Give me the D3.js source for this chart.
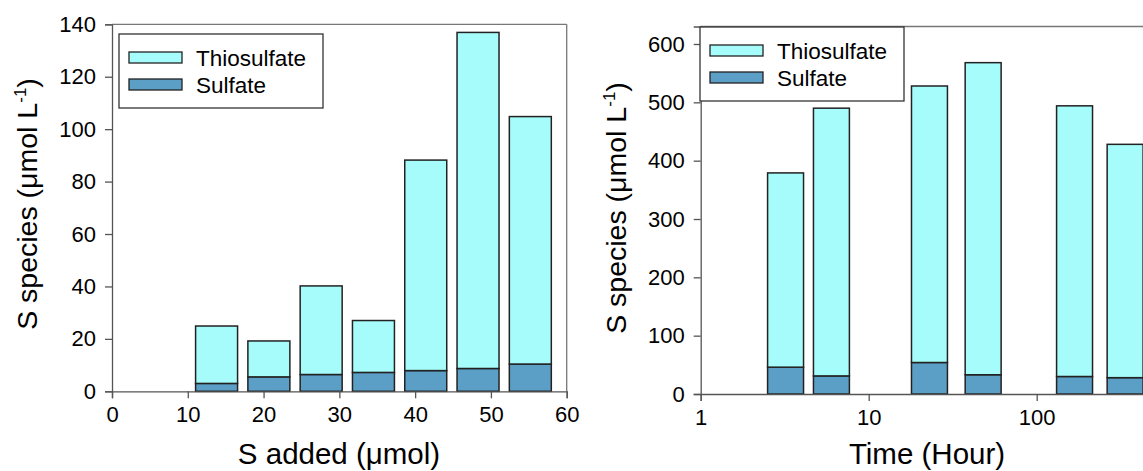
<!DOCTYPE html>
<html>
<head>
<meta charset="utf-8">
<script src="https://cdn.jsdelivr.net/npm/d3@7"></script>
<style>
  html, body { margin: 0; padding: 0; background: #fff; }
  svg { display: block; font-family: "Liberation Sans", Arial, sans-serif; }
</style>
</head>
<body>
<svg id="fig" width="1143" height="471"></svg>
<script>
// ---- Panel A: S species vs. amount of S added ----
const addedLevels   = [13.8, 20.7, 27.6, 34.5, 41.4, 48.3, 55.2];     // µmol
const sulfateAdded  = [3.0, 5.5, 6.4, 7.2, 7.9, 8.7, 10.4];           // µmol L-1
const thioAdded     = [21.9, 13.7, 33.8, 19.8, 80.3, 128.2, 94.4];    // µmol L-1 (stacked on sulfate)
const addedTicks    = [0, 10, 20, 30, 40, 50, 60];
const speciesTicksA = [0, 20, 40, 60, 80, 100, 120, 140];

// ---- Panel B: S species vs. time ----
const timeHours     = [3.2, 6, 23, 48, 168, 336];
const sulfateTime   = [46, 31, 54, 33, 30, 28];
const thioTime      = [333, 459, 474, 535, 464, 400];
const timeTicks     = [1, 10, 100];
const speciesTicksB = [0, 100, 200, 300, 400, 500, 600];

const seriesNames = ["Thiosulfate", "Sulfate"];
const colors = { Thiosulfate: "#a6fcfa", Sulfate: "#5b9fc7" };
const barStroke = "#222";
const axisColor = "#555";

const svg = d3.select("#fig");

function stackRows(xs, sulf, thio) {
  return xs.map((x, i) => ({ x, Sulfate: sulf[i], Thiosulfate: thio[i] }));
}
const stacker = d3.stack().keys(["Sulfate", "Thiosulfate"]);

function drawPanel(cfg) {
  const g = svg.append("g");
  const { x, y } = cfg;
  const [x0, x1] = x.range();
  const [yb, yt] = y.range();

  // frame (top and right sides)
  g.append("line").attr("x1", x0).attr("x2", x1).attr("y1", yt).attr("y2", yt)
    .attr("stroke", "#777").attr("stroke-width", 1.3);
  g.append("line").attr("x1", x1).attr("x2", x1).attr("y1", yt).attr("y2", yb)
    .attr("stroke", "#777").attr("stroke-width", 1.3);

  // stacked bars
  const layers = stacker(cfg.rows);
  layers.forEach(layer => {
    g.append("g").selectAll("rect").data(layer).join("rect")
      .attr("x", d => cfg.barLeft(d.data.x))
      .attr("width", d => cfg.barRight(d.data.x) - cfg.barLeft(d.data.x))
      .attr("y", d => y(d[1]))
      .attr("height", d => y(d[0]) - y(d[1]))
      .attr("fill", colors[layer.key])
      .attr("stroke", barStroke)
      .attr("stroke-width", 1.5);
  });

  // axes
  const xAxis = g.append("g").attr("transform", `translate(0,${yb})`)
    .call(d3.axisBottom(x).tickValues(cfg.xTicks).tickFormat(cfg.xFormat).tickSizeOuter(0).tickSize(7).tickPadding(8));
  const yAxis = g.append("g").attr("transform", `translate(${x0},0)`)
    .call(d3.axisLeft(y).tickValues(cfg.yTicks).tickSizeOuter(0).tickSize(7).tickPadding(9));
  [xAxis, yAxis].forEach(a => {
    a.select(".domain").attr("stroke", axisColor).attr("stroke-width", 1.3);
    a.selectAll(".tick line").attr("stroke", axisColor).attr("stroke-width", 1.3);
    a.selectAll(".tick text").attr("fill", "#000").style("font-size", "22px")
      .style("font-family", "Liberation Sans, Arial, sans-serif");
  });

  // axis titles
  g.append("text").attr("x", cfg.xTitleX).attr("y", 464).attr("text-anchor", "middle")
    .style("font-size", "29.5px").text(cfg.xTitle);
  const yt_ = g.append("text")
    .attr("transform", `translate(${cfg.yTitleX},${cfg.yTitleY}) rotate(-90)`)
    .attr("text-anchor", "middle").style("font-size", "28.5px");
  yt_.append("tspan").text("S species (μmol L");
  yt_.append("tspan").attr("dy", -11).style("font-size", "17px").text("-1");
  yt_.append("tspan").attr("dy", 11).text(")");

  // legend
  const lg = g.append("g").attr("transform", `translate(${cfg.legend[0]},${cfg.legend[1]})`);
  lg.append("rect").attr("width", 204).attr("height", 74)
    .attr("fill", "#fff").attr("stroke", "#333").attr("stroke-width", 1.3);
  seriesNames.forEach((name, i) => {
    lg.append("rect").attr("x", 10).attr("y", 18 + i * 27).attr("width", 53).attr("height", 11)
      .attr("fill", colors[name]).attr("stroke", barStroke).attr("stroke-width", 1.3);
    lg.append("text").attr("x", 77).attr("y", 31.5 + i * 27).style("font-size", "22.5px").text(name);
  });
}

// Panel A scales
const xA = d3.scaleLinear().domain([0, 60]).range([112, 566.7]);
const yA = d3.scaleLinear().domain([0, 140]).range([391.3, 24.3]);
const halfA = 2.77;
drawPanel({
  x: xA, y: yA,
  rows: stackRows(addedLevels, sulfateAdded, thioAdded),
  barLeft: v => xA(v - halfA), barRight: v => xA(v + halfA),
  xTicks: addedTicks, yTicks: speciesTicksA, xFormat: d3.format("d"),
  xTitle: "S added (μmol)", xTitleX: 339,
  yTitleX: 37, yTitleY: 204,
  legend: [119, 34]
});

// Panel B scales (log time axis)
const xB = d3.scaleLog().domain([1, 1000]).range([700.7, 1204.7]);
const yB = d3.scaleLinear().domain([0, 630]).range([394, 26.5]);
const halfB = Math.pow(10, 0.107);
drawPanel({
  x: xB, y: yB,
  rows: stackRows(timeHours, sulfateTime, thioTime),
  barLeft: v => xB(v / halfB), barRight: v => xB(v * halfB),
  xTicks: timeTicks, yTicks: speciesTicksB, xFormat: d3.format("d"),
  xTitle: "Time (Hour)", xTitleX: 927,
  yTitleX: 626, yTitleY: 208,
  legend: [700, 27]
});
</script>
</body>
</html>
